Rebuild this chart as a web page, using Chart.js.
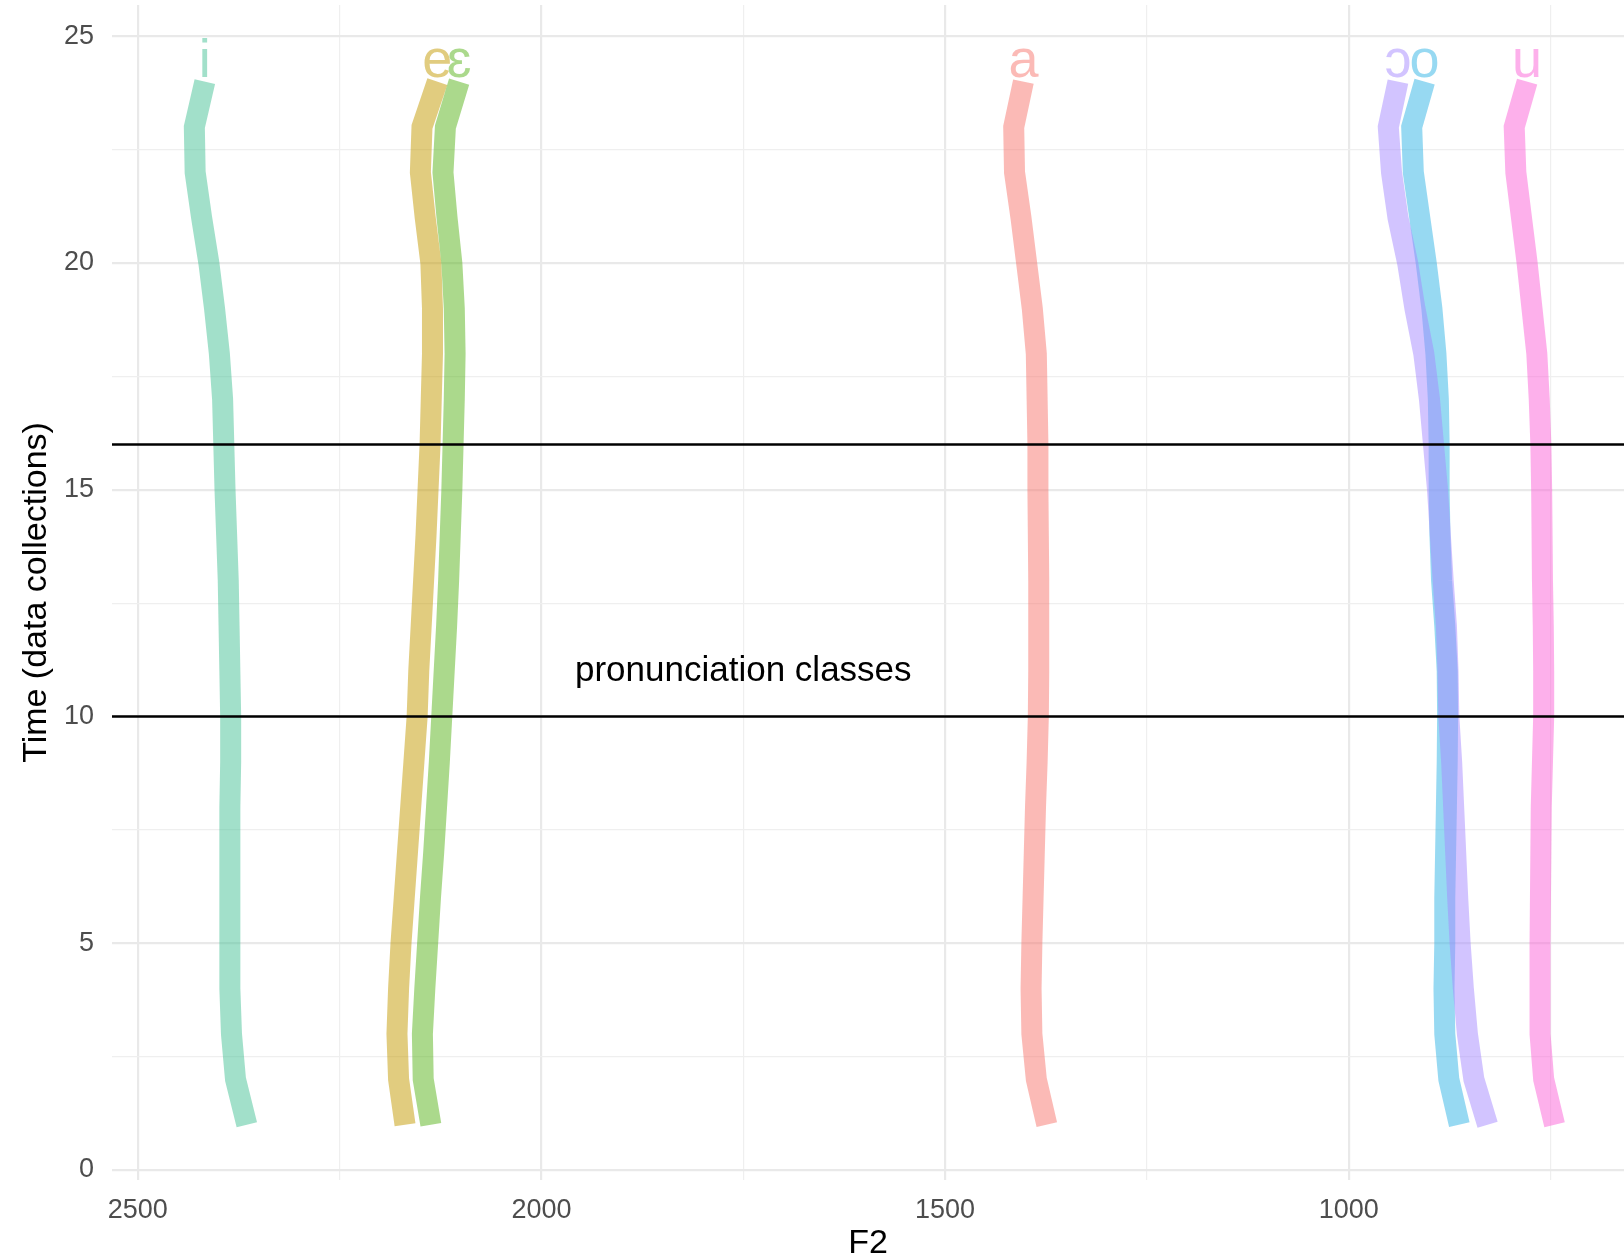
<!DOCTYPE html>
<html>
<head>
<meta charset="utf-8">
<title>F2 trajectories over time</title>
<script src="https://cdn.jsdelivr.net/npm/chart.js@4/dist/chart.umd.min.js"></script>
<style>
  html, body { margin: 0; padding: 0; background: #ffffff; }
  canvas { display: block; }
</style>
</head>
<body>
<canvas id="chart" width="1624" height="1258"></canvas>
<script>
// Data collection index (time) for every point of each trajectory
const times = [1, 2, 3, 4, 5, 6, 7, 8, 9, 10, 11, 12, 13, 14, 15, 16, 17, 18, 19, 20, 21, 22, 23, 24];

// Vowel categories and their hue colours
const vowels = ['a', 'e', 'ɛ', 'i', 'o', 'ɔ', 'u'];
const vowelColors = ['#F8766D', '#C49A00', '#58B41A', '#45C296', '#30B3E6', '#A58AFF', '#FB61D7'];

// Mean F2 (Hz) per data collection, times 1..24
const f2_a  = [1374, 1387, 1392.5, 1393.5, 1392.5, 1391, 1389.5, 1388, 1386, 1384.5, 1384, 1384, 1384, 1384.5, 1385, 1385, 1386, 1387, 1392, 1399, 1406, 1414, 1415, 1403];
const f2_e  = [2169, 2177, 2179, 2177, 2174, 2170, 2166, 2162, 2158, 2154, 2152, 2149, 2146, 2143, 2140.5, 2138, 2136.5, 2135, 2135, 2137, 2144, 2150, 2148, 2129];
const f2_eh = [2137, 2146.5, 2147.5, 2144.5, 2141, 2137.5, 2133.5, 2130, 2126.5, 2123.5, 2120.5, 2117.5, 2115, 2113, 2111, 2109.5, 2108, 2107, 2108, 2111, 2117, 2122, 2119, 2102];
const f2_i  = [2365, 2379, 2384, 2386, 2386, 2386, 2386, 2386, 2385, 2385, 2386, 2387, 2388, 2390, 2392, 2393.5, 2395, 2399, 2405, 2412, 2421, 2429, 2430, 2417];
const f2_o  = [863, 876, 881, 882, 881, 881, 880, 879, 878, 877.5, 878, 881, 885, 887, 888, 888, 889, 892, 897, 904, 912, 920, 922, 906];
const f2_oh = [828, 845, 853, 858, 862, 865, 867.5, 870, 872.5, 876, 877, 879, 883, 886.5, 890, 895, 900, 907, 918, 927, 939, 947, 951, 939];
const f2_u  = [745, 758.5, 763, 763, 763, 762.5, 762, 761.5, 760, 758.5, 758.5, 759, 760, 760.5, 761, 762, 764, 767, 773, 779, 786, 793, 795, 779];

const f2Series = [f2_a, f2_e, f2_eh, f2_i, f2_o, f2_oh, f2_u];

// Boundaries of the pronunciation-class period and its caption
const classBounds = [16, 10];
const classNote = 'pronunciation classes';
const classNoteAt = { x: 1750, y: 11 };

// Axis tick values
const xTicks = [2500, 2000, 1500, 1000];
const yTicks = [0, 5, 10, 15, 20, 25];

const X_MIN = 659, X_MAX = 2532;
const Y_MIN = -0.22, Y_MAX = 25.69;

const FONT = '"Liberation Sans", Arial, Helvetica, sans-serif';

function withAlpha(hex, a) {
  const n = parseInt(hex.slice(1), 16);
  return `rgba(${(n >> 16) & 255}, ${(n >> 8) & 255}, ${n & 255}, ${a})`;
}

// A single very long dash keeps the stroke solid while making Chart.js
// trace every vertex (its fast path merges points sharing a pixel column).
const SOLID = [100000, 0];

const vowelDatasets = vowels.map((v, k) => ({
  label: v,
  data: times.map((t, j) => ({ x: f2Series[k][j], y: t })),
  showLine: true,
  borderColor: withAlpha(vowelColors[k], 0.5),
  backgroundColor: 'transparent',
  borderWidth: 21,
  borderDash: SOLID,
  borderCapStyle: 'butt',
  borderJoinStyle: 'miter',
  pointRadius: 0,
  tension: 0,
  order: vowels.length - k + 1   // later vowels are painted over earlier ones
}));

const boundDatasets = classBounds.map(b => ({
  label: 'bound ' + b,
  data: [{ x: X_MAX, y: b }, { x: X_MIN, y: b }],
  showLine: true,
  borderColor: '#000000',
  borderWidth: 2.5,
  pointRadius: 0,
  tension: 0,
  order: 0
}));

// Vowel symbols above each trajectory and the caption between the boundaries
const textLayer = {
  id: 'textLayer',
  afterDatasetsDraw(chart) {
    const ctx = chart.ctx;
    ctx.save();
    ctx.font = `54px ${FONT}`;
    ctx.textAlign = 'center';
    ctx.textBaseline = 'alphabetic';
    vowels.forEach((v, k) => {
      const pts = chart.getDatasetMeta(k).data;
      const top = pts[pts.length - 1];
      ctx.fillStyle = withAlpha(vowelColors[k], 0.5);
      ctx.fillText(v, top.x, top.y - 5);
    });
    ctx.font = `35px ${FONT}`;
    ctx.fillStyle = '#000000';
    ctx.textBaseline = 'middle';
    ctx.fillText(classNote,
      chart.scales.x.getPixelForValue(classNoteAt.x),
      chart.scales.y.getPixelForValue(classNoteAt.y));
    ctx.restore();
  }
};

const isMajor = (vals, v) => vals.some(t => Math.abs(t - v) < 1e-6);

new Chart(document.getElementById('chart'), {
  type: 'scatter',
  data: { datasets: [...vowelDatasets, ...boundDatasets] },
  options: {
    responsive: false,
    devicePixelRatio: 1,
    animation: false,
    layout: { padding: { top: 5, left: 0, right: 0, bottom: 0 } },
    plugins: { legend: { display: false }, tooltip: { enabled: false } },
    scales: {
      x: {
        type: 'linear',
        reverse: true,
        min: X_MIN,
        max: X_MAX,
        afterFit(scale) {
          scale.height = 78;
          scale.paddingLeft = 0;
          scale.paddingRight = 0;
        },
        border: { display: false },
        grid: {
          drawTicks: false,
          color: ctx => isMajor(xTicks, ctx.tick.value) ? '#e9e9e9' : '#efefef',
          lineWidth: ctx => isMajor(xTicks, ctx.tick.value) ? 2.2 : 1.2
        },
        ticks: {
          stepSize: 250,
          includeBounds: false,
          autoSkip: false,
          maxRotation: 0,
          padding: 14,
          color: '#4d4d4d',
          font: { family: FONT, size: 27 },
          callback: v => isMajor(xTicks, v) ? String(v) : ''
        },
        title: {
          display: true,
          text: 'F2',
          color: '#000000',
          font: { family: FONT, size: 34 },
          padding: { top: 0, bottom: -6 }
        }
      },
      y: {
        type: 'linear',
        min: Y_MIN,
        max: Y_MAX,
        afterFit(scale) {
          scale.width = 112;
          scale.paddingTop = 0;
          scale.paddingBottom = 0;
        },
        border: { display: false },
        grid: {
          drawTicks: false,
          color: ctx => isMajor(yTicks, ctx.tick.value) ? '#e9e9e9' : '#efefef',
          lineWidth: ctx => isMajor(yTicks, ctx.tick.value) ? 2.2 : 1.2
        },
        ticks: {
          stepSize: 2.5,
          includeBounds: false,
          autoSkip: false,
          maxTicksLimit: 30,
          padding: 18,
          color: '#4d4d4d',
          font: { family: FONT, size: 27 },
          callback: v => isMajor(yTicks, v) ? String(v) : ''
        },
        title: {
          display: true,
          text: 'Time (data collections)',
          color: '#000000',
          font: { family: FONT, size: 34 },
          padding: { top: 16, bottom: 0 }
        }
      }
    }
  },
  plugins: [textLayer]
});
</script>
</body>
</html>
